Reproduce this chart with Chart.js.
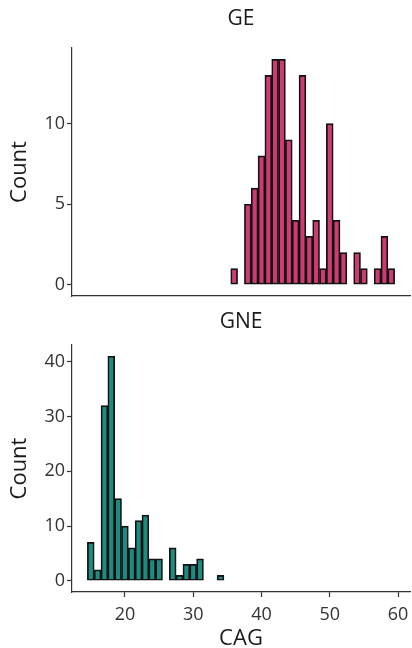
<!DOCTYPE html>
<html>
<head>
<meta charset="utf-8">
<script src="https://cdn.jsdelivr.net/npm/chart.js@4"></script>
<style>
  html, body { margin:0; padding:0; background:#fff; }
  body { width:412px; height:648px; position:relative; overflow:hidden; }
  canvas { position:absolute; left:0; }
  #c1 { top:0; }
  #c2 { top:300px; }
</style>
</head>
<body>
<canvas id="c1" width="412" height="302"></canvas>
<canvas id="c2" width="412" height="348"></canvas>
<script>
// ---- Data (bin centres, binwidth 1) ----
const geBins   = [36, 38, 39, 40, 41, 42, 43, 44, 45, 46, 47, 48, 49, 50, 51, 52, 54, 55, 57, 58, 59];
const geCounts = [ 1,  5,  6,  8, 13, 14, 14,  9,  4, 13,  3,  4,  1, 10,  4,  2,  2,  1,  1,  3,  1];
const gneBins   = [15, 16, 17, 18, 19, 20, 21, 22, 23, 24, 25, 27, 28, 29, 30, 31, 34];
const gneCounts = [ 7,  2, 32, 41, 15, 10,  6, 11, 12,  4,  4,  6,  1,  3,  3,  4,  1];
const xTicks = [20, 30, 40, 50, 60];
const geYTicks = [0, 5, 10];
const gneYTicks = [0, 10, 20, 30, 40];
const panelTitles = ['GE', 'GNE'];
const xLabel = 'CAG';
const yLabel = 'Count';

const FONT = "'Open Sans', 'DejaVu Sans', sans-serif";
const AXIS = '#333333';

function facetTitle(text, offset) {
  return {
    id: 'facetTitle',
    afterDraw(chart) {
      const ctx = chart.ctx, a = chart.chartArea;
      ctx.save();
      ctx.font = "21px " + FONT;
      ctx.fillStyle = '#1a1a1a';
      ctx.textAlign = 'center';
      ctx.textBaseline = 'middle';
      ctx.fillText(text, (a.left + a.right) / 2, a.top - offset);
      ctx.restore();
    }
  };
}

function makeChart(id, bins, counts, color, yTicks, yMin, yMax, title, titleOffset, showX, padTop) {
  const data = bins.map((b, i) => ({ x: b, y: counts[i] }));
  return new Chart(document.getElementById(id), {
    type: 'bar',
    data: { datasets: [{
      data,
      backgroundColor: color,
      borderColor: '#111111',
      borderWidth: 1.7,
      borderSkipped: false,
      barPercentage: 1.0,
      categoryPercentage: 1.0
    }]},
    options: {
      responsive: false,
      animation: false,
      devicePixelRatio: 1,
      layout: { padding: { left: 0, right: 2, top: padTop, bottom: 0 } },
      plugins: { legend: { display: false }, tooltip: { enabled: false } },
      scales: {
        x: {
          type: 'linear',
          min: 12.25, max: 61.75,
          offset: false,
          afterBuildTicks: s => { s.ticks = xTicks.map(v => ({ value: v })); },
          afterFit: s => { s.height = showX ? 56 : 6; s.paddingLeft = 0; s.paddingRight = 0; },
          grid: { display: showX, offset: false, drawOnChartArea: false, drawTicks: showX, tickLength: 5, color: AXIS, tickColor: AXIS, tickWidth: 1.2 },
          border: { display: true, color: AXIS, width: 1.2 },
          ticks: { display: showX, font: { family: FONT, size: 18 }, color: '#333333', padding: 7, maxRotation: 0, autoSkip: false },
          title: { display: showX, text: xLabel, font: { family: FONT, size: 22 }, color: '#1a1a1a', padding: { top: 0, bottom: -4 } }
        },
        y: {
          min: yMin, max: yMax,
          afterBuildTicks: s => { s.ticks = yTicks.map(v => ({ value: v })); },
          afterFit: s => { s.width = 72; s.paddingTop = 0; s.paddingBottom = 0; },
          grid: { display: true, offset: false, drawOnChartArea: false, drawTicks: true, tickLength: 5, color: AXIS, tickColor: AXIS, tickWidth: 1.2 },
          border: { display: true, color: AXIS, width: 1.2 },
          ticks: { font: { family: FONT, size: 18 }, color: '#333333', padding: 2 },
          title: { display: true, text: yLabel, font: { family: FONT, size: 22 }, color: '#1a1a1a', padding: { top: 7, bottom: 0 } }
        }
      }
    },
    plugins: [facetTitle(title, titleOffset)]
  });
}

makeChart('c1', geBins, geCounts, '#CE3A72', geYTicks, -0.7, 14.7, panelTitles[0], 29, false, 48);
makeChart('c2', gneBins, gneCounts, '#1E8B80', gneYTicks, -2.05, 43.05, panelTitles[1], 23, true, 45);
</script>
</body>
</html>
